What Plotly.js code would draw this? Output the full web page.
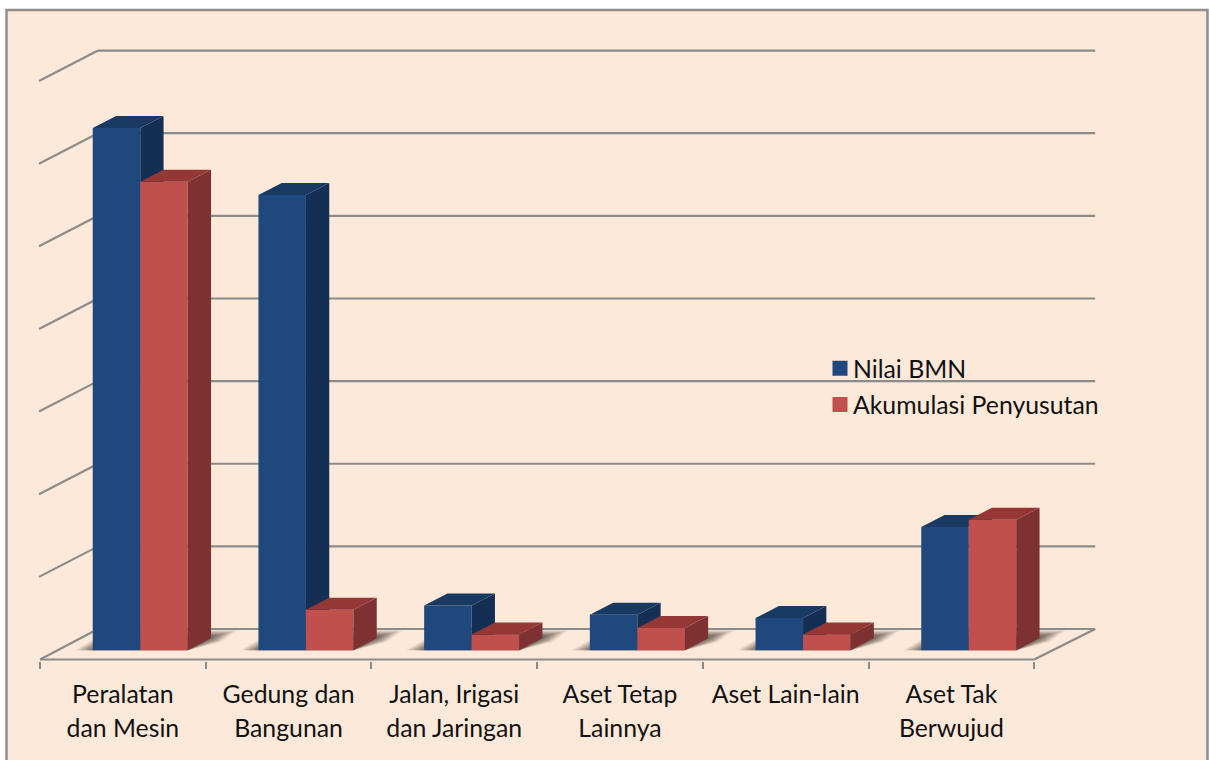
<!DOCTYPE html>
<html><head><meta charset="utf-8">
<script src="https://cdn.plot.ly/plotly-3.0.1.min.js"></script>
<style>html,body{margin:0;padding:0;background:#fff;overflow:hidden}#chart{width:1209px;height:760px}</style>
</head><body><div id="chart"></div>
<script>
// DATA (values read in grid-step units; the source chart hides its value axis)
const categories = ["Peralatan<br>dan Mesin","Gedung dan<br>Bangunan","Jalan, Irigasi<br>dan Jaringan","Aset Tetap<br>Lainnya","Aset Lain-lain","Aset Tak<br>Berwujud"];
const nilaiBMN = [6.32, 5.51, 0.54, 0.43, 0.39, 1.49];
const akumulasiPenyusutan = [5.67, 0.49, 0.19, 0.27, 0.19, 1.58];
const gridSteps = [0,1,2,3,4,5,6,7];
const seriesNames = ["Nilai BMN","Akumulasi Penyusutan"];

// Pixel scale helpers for the fake-3D projection
const PX_X = 165.7, PX_Y = 82.7;          // px per category, px per value unit
const barW = 47.5/PX_X, blueOff = 0.4617, redOff = 0.7483;
const dX = 23.3/PX_X, dY = 12/PX_Y;       // bar depth
const wallX = 58/PX_X, wallY = 30.5/PX_Y; // chart floor depth
const rightWallX = 61/PX_X;
const floorV = -9.3/PX_Y;                 // front floor edge
const n = categories.length;
const xRange = [-2/PX_X, 1060/PX_X], yRange = [-10.8/PX_Y, 640.7/PX_Y];
const catX = categories.map((_,i)=>i+0.5), tickX = [0,1,2,3,4,5,6];

const BG='#FDE9D9', GRID='#8b8b89';
const C = {blue:{front:'#1F497D',side:'#152F54',top:'#183A62'}, red:{front:'#C0504D',side:'#7D3130',top:'#953735'}};

function faces(values, off){
  const side={x:[],y:[]}, top={x:[],y:[]};
  values.forEach((v,i)=>{
    const l=i+off-barW/2, r=i+off+barW/2;
    side.x.push(r,r+dX,r+dX,r,r,null); side.y.push(0,dY,v+dY,v,0,null);
    top.x.push(l,r,r+dX,l+dX,l,null);  top.y.push(v,v,v+dY,v+dY,v,null);
  });
  return {side,top};
}
function faceTrace(p,color,xa,ya){
  return {type:'scatter',mode:'lines',x:p.x,y:p.y,fill:'toself',fillcolor:color,line:{width:0,color:color},
          hoverinfo:'skip',showlegend:false,xaxis:xa,yaxis:ya};
}
const fb=faces(nilaiBMN,blueOff), fr=faces(akumulasiPenyusutan,redOff);
const xs=(off)=>categories.map((_,i)=>i+off);

const traces=[
  {type:'bar',x:xs(blueOff),y:nilaiBMN,width:barW,marker:{color:C.blue.front,line:{width:0}},showlegend:false,hoverinfo:'y',xaxis:'x',yaxis:'y'},
  faceTrace(fb.side,C.blue.side,'x','y'),
  faceTrace(fb.top,C.blue.top,'x','y'),
  {type:'bar',x:xs(redOff),y:akumulasiPenyusutan,width:barW,marker:{color:C.red.front,line:{width:0}},showlegend:false,hoverinfo:'y',xaxis:'x2',yaxis:'y2'},
  faceTrace(fr.side,C.red.side,'x2','y2'),
  faceTrace(fr.top,C.red.top,'x2','y2'),
  {type:'scatter',mode:'markers',x:[null],y:[null],name:seriesNames[0],legendgroup:'a',marker:{symbol:'square',size:15,color:C.blue.front},xaxis:'x',yaxis:'y'},
  {type:'scatter',mode:'markers',x:[null],y:[null],name:seriesNames[1],legendgroup:'b',marker:{symbol:'square',size:15,color:C.red.front},xaxis:'x',yaxis:'y'}
];

const L=38,T=10,W=1062,H=651.5;
const line=(x0,y0,x1,y1)=>({type:'line',layer:'below',xref:'x',yref:'y',x0,y0,x1,y1,line:{color:GRID,width:2.2}});
const shapes=[];
// page panel (its bottom edge runs off the page, as in the source crop)
shapes.push({type:'rect',layer:'below',xref:'paper',yref:'paper',
  x0:(6.5-L)/W,x1:(1207.5-L)/W,y0:1-(775-T)/H,y1:1-(10-T)/H,fillcolor:BG,line:{color:'#8f8f8f',width:2.5}});
// floor shadows behind each pair of bars: soft edge built from stacked translucent layers
// each step: [px left of bar, px tip beyond bar's back corner, px above base, px bulge below back corner, alpha]
const shadowSteps=[[18,26,20,4,0.12],[15,22,19,3,0.15],[12,18,18,2.5,0.18],[9,14,17,2,0.2],[6,10,16,1,0.24],[3,6,15,0,0.28]];
for(let i=0;i<n;i++){
  shadowSteps.forEach(s=>{
    const l=i+blueOff-barW/2-s[0]/PX_X, rFront=i+redOff+barW/2, rBack=rFront+dX;
    const tip=rBack+s[1]/PX_X, t=s[2]/PX_Y, sk=s[2]*1.75/PX_X;
    const corner=dY-s[3]/PX_Y;
    shapes.push({type:'path',layer:'below',xref:'x',yref:'y',
      path:`M${l},0L${rFront},0L${rBack+s[1]*0.35/PX_X},${corner}L${tip},${t}L${l+sk},${t}Z`,
      fillcolor:`rgba(80,72,64,${s[4]})`,line:{width:0}});
  });
}
// back wall grid and left-wall diagonals
const backV=g=>floorV+wallY+g;
const backEnd=6+rightWallX;
gridSteps.forEach(g=>{
  shapes.push(line(wallX,backV(g),backEnd,backV(g)));
  if(g>0) shapes.push(line(-1/PX_X,backV(g)-wallY,wallX,backV(g)));
});
// floor outline
shapes.push(line(0,floorV,wallX,floorV+wallY));
shapes.push(line(0,floorV,6,floorV));
shapes.push(line(6,floorV,backEnd,floorV+wallY));

const span=t=>t.split('<br>').map(s=>`<span style="font-size:24.8px">${s}</span>`).join('<br>');
const layout={
  width:1209,height:760,paper_bgcolor:'#fff',plot_bgcolor:'rgba(0,0,0,0)',
  margin:{l:L,t:T,r:1209-L-W,b:760-T-H,pad:0},
  barmode:'overlay',hovermode:false,
  font:{family:'Lato, "Open Sans", sans-serif',color:'#111'},
  shapes,
  xaxis:{range:xRange,domain:[0,1],tickmode:'array',tickvals:catX,ticktext:categories.map(span),ticks:'',
         showgrid:false,zeroline:false,showline:false,fixedrange:true,tickangle:0,automargin:false,ticklabelstandoff:15,
         tickfont:{family:'Lato, "Open Sans", sans-serif',size:25.9,color:'#111'}},
  xaxis2:{range:xRange,overlaying:'x',side:'bottom',anchor:'y2',tickmode:'array',tickvals:tickX,ticktext:tickX.map(()=>''),
          ticks:'outside',ticklen:7,tickwidth:2,tickcolor:GRID,showgrid:false,zeroline:false,showline:false,fixedrange:true},
  yaxis:{range:yRange,visible:false,fixedrange:true},
  yaxis2:{range:yRange,overlaying:'y',visible:false,fixedrange:true},
  showlegend:true,
  legend:{x:(813-L)/W,y:1-(346-T)/H,xanchor:'left',yanchor:'top',bgcolor:'rgba(0,0,0,0)',borderwidth:0,
          font:{family:'Lato, "Open Sans", sans-serif',size:24.8,color:'#111'},tracegroupgap:1,traceorder:'grouped',itemclick:false,itemdoubleclick:false}
};
Plotly.newPlot('chart',traces,layout,{displayModeBar:false,staticPlot:true}).then(()=>{
  document.querySelectorAll('.legend .legendsymbols').forEach(g=>g.setAttribute('transform','translate(7,0)'));
});
</script></body></html>
